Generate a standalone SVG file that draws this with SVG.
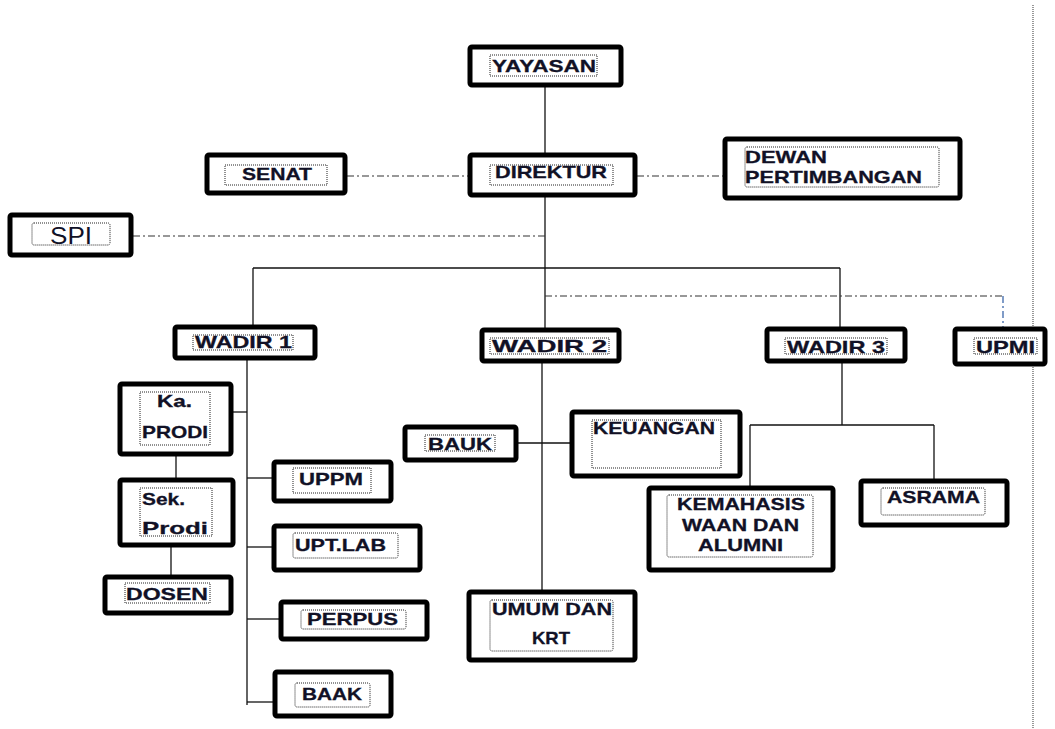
<svg xmlns="http://www.w3.org/2000/svg" width="1055" height="729" viewBox="0 0 1055 729">
  <style>
    .box { fill: #ffffff; stroke: #000000; stroke-width: 5; }
    .inner { fill: none; stroke: #222222; stroke-width: 1; stroke-dasharray: 1 1; }
    .lbl { font-family: "Liberation Sans", Arial, sans-serif; font-weight: bold; font-size: 17px; fill: #111126; stroke: #111126; stroke-width: 0.3; }
    .reg { font-family: "Liberation Sans", Arial, sans-serif; font-size: 24px; fill: #111126; }
    .line { fill: none; stroke: #111111; stroke-width: 1.3; }
    .dashdot { fill: none; stroke: #333333; stroke-width: 1.2; stroke-dasharray: 7 3 2 3; }
    .dashblue { fill: none; stroke: #4a72b0; stroke-width: 1.4; stroke-dasharray: 7 3 2 3; }
    .guide { fill: none; stroke: #555555; stroke-width: 1.2; stroke-dasharray: 1 1; }
  </style>

  <!-- page margin guide -->
  <line class="guide" x1="1033" y1="5" x2="1033" y2="729"/>

  <g id="connectors">
    <line class="line" x1="545" y1="87" x2="545" y2="153"/>
    <line class="line" x1="545" y1="197" x2="545" y2="330"/>
    <line class="line" x1="253" y1="268" x2="840" y2="268"/>
    <line class="line" x1="253" y1="268" x2="253" y2="325"/>
    <line class="line" x1="840" y1="268" x2="840" y2="327"/>
    <line class="dashdot" x1="347" y1="176" x2="468" y2="176"/>
    <line class="dashdot" x1="637" y1="176" x2="723" y2="176"/>
    <line class="dashdot" x1="133" y1="236" x2="545" y2="236"/>
    <line class="dashdot" x1="545" y1="296" x2="1003" y2="296"/>
    <line class="dashblue" x1="1003" y1="296" x2="1003" y2="327"/>
    <!-- Wadir 1 branch -->
    <line class="line" x1="247" y1="360" x2="247" y2="705"/>
    <line class="line" x1="233" y1="412" x2="247" y2="412"/>
    <line class="line" x1="247" y1="478" x2="272" y2="478"/>
    <line class="line" x1="247" y1="547" x2="272" y2="547"/>
    <line class="line" x1="247" y1="619" x2="279" y2="619"/>
    <line class="line" x1="247" y1="702" x2="273" y2="702"/>
    <line class="line" x1="176" y1="456" x2="176" y2="478"/>
    <line class="line" x1="171" y1="547" x2="171" y2="575"/>
    <!-- Wadir 2 branch -->
    <line class="line" x1="542" y1="363" x2="542" y2="590"/>
    <line class="line" x1="518" y1="443" x2="570" y2="443"/>
    <!-- Wadir 3 branch -->
    <line class="line" x1="842" y1="363" x2="842" y2="425"/>
    <line class="line" x1="750" y1="425" x2="934" y2="425"/>
    <line class="line" x1="750" y1="425" x2="750" y2="486"/>
    <line class="line" x1="934" y1="425" x2="934" y2="479"/>
  </g>

  <g id="yayasan">
    <rect class="box" x="470" y="47" width="151" height="38" rx="2"/>
    <rect class="inner" x="490" y="55" width="107" height="21"/>
    <text class="lbl" x="492" y="72" textLength="104" lengthAdjust="spacingAndGlyphs">YAYASAN</text>
  </g>

  <g id="direktur">
    <rect class="box" x="470" y="155" width="165" height="40" rx="2"/>
    <rect class="inner" x="490" y="165" width="123" height="20"/>
    <text class="lbl" x="495" y="178" textLength="112" lengthAdjust="spacingAndGlyphs">DIREKTUR</text>
  </g>

  <g id="senat">
    <rect class="box" x="207" y="155" width="138" height="38" rx="2"/>
    <rect class="inner" x="225" y="165" width="102" height="20"/>
    <text class="lbl" x="242" y="180" textLength="70" lengthAdjust="spacingAndGlyphs">SENAT</text>
  </g>

  <g id="dewan-pertimbangan">
    <rect class="box" x="725" y="139" width="235" height="59" rx="2"/>
    <rect class="inner" x="745" y="147" width="194" height="40" rx="2"/>
    <text class="lbl" x="745" y="163" textLength="82" lengthAdjust="spacingAndGlyphs">DEWAN</text>
    <text class="lbl" x="745" y="183" textLength="177" lengthAdjust="spacingAndGlyphs">PERTIMBANGAN</text>
  </g>

  <g id="spi">
    <rect class="box" x="10" y="215" width="121" height="40" rx="2"/>
    <rect class="inner" x="32" y="223" width="78" height="22" rx="2"/>
    <text class="reg" x="50" y="244" textLength="42" lengthAdjust="spacingAndGlyphs">SPI</text>
  </g>

  <g id="wadir-1">
    <rect class="box" x="175" y="327" width="140" height="31" rx="2"/>
    <rect class="inner" x="193" y="335" width="100" height="15"/>
    <text class="lbl" x="195" y="348" textLength="97" lengthAdjust="spacingAndGlyphs">WADIR 1</text>
  </g>

  <g id="wadir-2">
    <rect class="box" x="482" y="330" width="137" height="31" rx="2"/>
    <rect class="inner" x="490" y="338" width="119" height="16"/>
    <text class="lbl" x="492" y="352" textLength="115" lengthAdjust="spacingAndGlyphs">WADIR 2</text>
  </g>

  <g id="wadir-3">
    <rect class="box" x="767" y="329" width="138" height="32" rx="2"/>
    <rect class="inner" x="785" y="338" width="102" height="16"/>
    <text class="lbl" x="787" y="353" textLength="98" lengthAdjust="spacingAndGlyphs">WADIR 3</text>
  </g>

  <g id="upmi">
    <rect class="box" x="955" y="329" width="90" height="35" rx="2"/>
    <rect class="inner" x="974" y="338" width="63" height="16"/>
    <text class="lbl" x="976" y="353" textLength="59" lengthAdjust="spacingAndGlyphs">UPMI</text>
  </g>

  <g id="ka-prodi">
    <rect class="box" x="120" y="384" width="111" height="70" rx="2"/>
    <rect class="inner" x="140" y="392" width="70" height="53"/>
    <text class="lbl" x="157" y="407" textLength="35" lengthAdjust="spacingAndGlyphs">Ka.</text>
    <text class="lbl" x="142" y="438" textLength="66" lengthAdjust="spacingAndGlyphs">PRODI</text>
  </g>

  <g id="sek-prodi">
    <rect class="box" x="120" y="480" width="113" height="65" rx="2"/>
    <rect class="inner" x="140" y="488" width="72" height="48"/>
    <text class="lbl" x="142" y="505" textLength="43" lengthAdjust="spacingAndGlyphs">Sek.</text>
    <text class="lbl" x="142" y="534" textLength="66" lengthAdjust="spacingAndGlyphs">Prodi</text>
  </g>

  <g id="dosen">
    <rect class="box" x="105" y="577" width="126" height="36" rx="2"/>
    <rect class="inner" x="125" y="583" width="85" height="20"/>
    <text class="lbl" x="126" y="600" textLength="82" lengthAdjust="spacingAndGlyphs">DOSEN</text>
  </g>

  <g id="uppm">
    <rect class="box" x="274" y="462" width="117" height="39" rx="2"/>
    <rect class="inner" x="293" y="468" width="78" height="25"/>
    <text class="lbl" x="299" y="485" textLength="64" lengthAdjust="spacingAndGlyphs">UPPM</text>
  </g>

  <g id="upt-lab">
    <rect class="box" x="274" y="526" width="146" height="44" rx="2"/>
    <rect class="inner" x="293" y="533" width="105" height="25" rx="2"/>
    <text class="lbl" x="295" y="551" textLength="91" lengthAdjust="spacingAndGlyphs">UPT.LAB</text>
  </g>

  <g id="perpus">
    <rect class="box" x="281" y="602" width="146" height="37" rx="2"/>
    <rect class="inner" x="301" y="610" width="105" height="19" rx="2"/>
    <text class="lbl" x="307" y="625" textLength="91" lengthAdjust="spacingAndGlyphs">PERPUS</text>
  </g>

  <g id="baak">
    <rect class="box" x="275" y="672" width="116" height="44" rx="2"/>
    <rect class="inner" x="295" y="683" width="75" height="24" rx="2"/>
    <text class="lbl" x="302" y="700" textLength="60" lengthAdjust="spacingAndGlyphs">BAAK</text>
  </g>

  <g id="bauk">
    <rect class="box" x="405" y="427" width="111" height="33" rx="2"/>
    <rect class="inner" x="425" y="435" width="70" height="16"/>
    <text class="lbl" x="428" y="450" textLength="64" lengthAdjust="spacingAndGlyphs">BAUK</text>
  </g>

  <g id="keuangan">
    <rect class="box" x="572" y="412" width="168" height="64" rx="2"/>
    <rect class="inner" x="592" y="420" width="129" height="48"/>
    <text class="lbl" x="593" y="434" textLength="122" lengthAdjust="spacingAndGlyphs">KEUANGAN</text>
  </g>

  <g id="umum-dan-krt">
    <rect class="box" x="469" y="592" width="166" height="68" rx="2"/>
    <rect class="inner" x="490" y="600" width="123" height="51" rx="2"/>
    <text class="lbl" x="492" y="615" textLength="120" lengthAdjust="spacingAndGlyphs">UMUM DAN</text>
    <text class="lbl" x="532" y="644" textLength="38" lengthAdjust="spacingAndGlyphs">KRT</text>
  </g>

  <g id="kemahasiswaan-dan-alumni">
    <rect class="box" x="649" y="488" width="184" height="82" rx="2"/>
    <rect class="inner" x="667" y="495" width="146" height="62" rx="2"/>
    <text class="lbl" x="677" y="510" textLength="128" lengthAdjust="spacingAndGlyphs">KEMAHASIS</text>
    <text class="lbl" x="682" y="531" textLength="117" lengthAdjust="spacingAndGlyphs">WAAN  DAN</text>
    <text class="lbl" x="698" y="551" textLength="85" lengthAdjust="spacingAndGlyphs">ALUMNI</text>
  </g>

  <g id="asrama">
    <rect class="box" x="861" y="481" width="146" height="44" rx="2"/>
    <rect class="inner" x="881" y="488" width="104" height="27" rx="2"/>
    <text class="lbl" x="887" y="503" textLength="93" lengthAdjust="spacingAndGlyphs">ASRAMA</text>
  </g>
</svg>
